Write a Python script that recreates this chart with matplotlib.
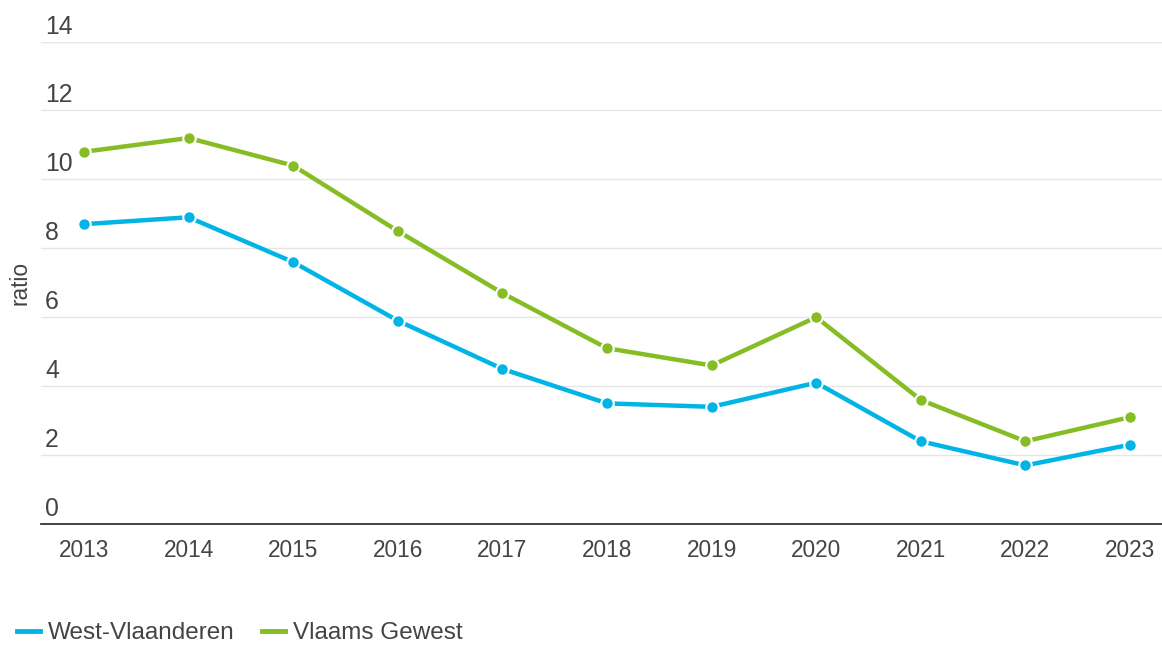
import matplotlib.pyplot as plt
from matplotlib.lines import Line2D

plt.rcParams['font.family'] = ['Liberation Sans', 'DejaVu Sans']

# data
jaren = [2013, 2014, 2015, 2016, 2017, 2018, 2019, 2020, 2021, 2022, 2023]
west_vlaanderen = [8.7, 8.9, 7.6, 5.9, 4.5, 3.5, 3.4, 4.1, 2.4, 1.7, 2.3]
vlaams_gewest = [10.8, 11.2, 10.4, 8.5, 6.7, 5.1, 4.6, 6.0, 3.6, 2.4, 3.1]
y_ticks = [0, 2, 4, 6, 8, 10, 12, 14]

blauw = '#00b5e6'
groen = '#86bc24'
tekst = '#444444'

fig = plt.figure(figsize=(11.62, 6.46), dpi=100)
W, H = 1162, 646
ax = fig.add_axes([41 / W, (H - 524) / H, (1162 - 41) / W, (524 - 41.5) / H])

for waarden, kleur in [(west_vlaanderen, blauw), (vlaams_gewest, groen)]:
    ax.plot(jaren, waarden, color=kleur, linewidth=3.2, marker='o', markersize=9,
            markerfacecolor=kleur, markeredgecolor='white', markeredgewidth=1.5,
            solid_capstyle='round', zorder=3)

ax.set_ylim(0, 14)
ax.set_xlim(2012.589, 2023.306)

# grid
for t in y_ticks[1:]:
    ax.axhline(t, color='#e6e6e6', linewidth=1, zorder=1)

ax.set_yticks([])
ax.set_xticks(jaren)
ax.set_xticklabels([str(j) for j in jaren], fontsize=16.3, color=tekst)
ax.tick_params(axis='x', length=0, pad=11)

for s in ['top', 'right', 'left']:
    ax.spines[s].set_visible(False)
ax.spines['bottom'].set_color('#333333')
ax.spines['bottom'].set_linewidth(1.3)

# y labels boven de gridlijnen
for t in y_ticks:
    ax.annotate(str(t), xy=(0, t), xycoords=('axes fraction', 'data'),
                xytext=(4, 3), textcoords='offset pixels',
                ha='left', va='bottom', fontsize=17.8, color=tekst)

fig.text(20 / W, 1 - 283 / H, 'ratio', rotation=90, ha='center', va='center',
         fontsize=16.3, color=tekst)

handles = [Line2D([0], [0], color=blauw, linewidth=3.5),
           Line2D([0], [0], color=groen, linewidth=3.5)]
fig.legend(handles, ['West-Vlaanderen', 'Vlaams Gewest'], loc='center left',
           bbox_to_anchor=(17 / W, 1 - 633 / H), ncol=2, frameon=False,
           fontsize=17.5, handlelength=0.95, handletextpad=0.33,
           columnspacing=1.1, borderpad=0, borderaxespad=0,
           labelcolor=tekst)

fig.savefig('out.png', dpi=100)
